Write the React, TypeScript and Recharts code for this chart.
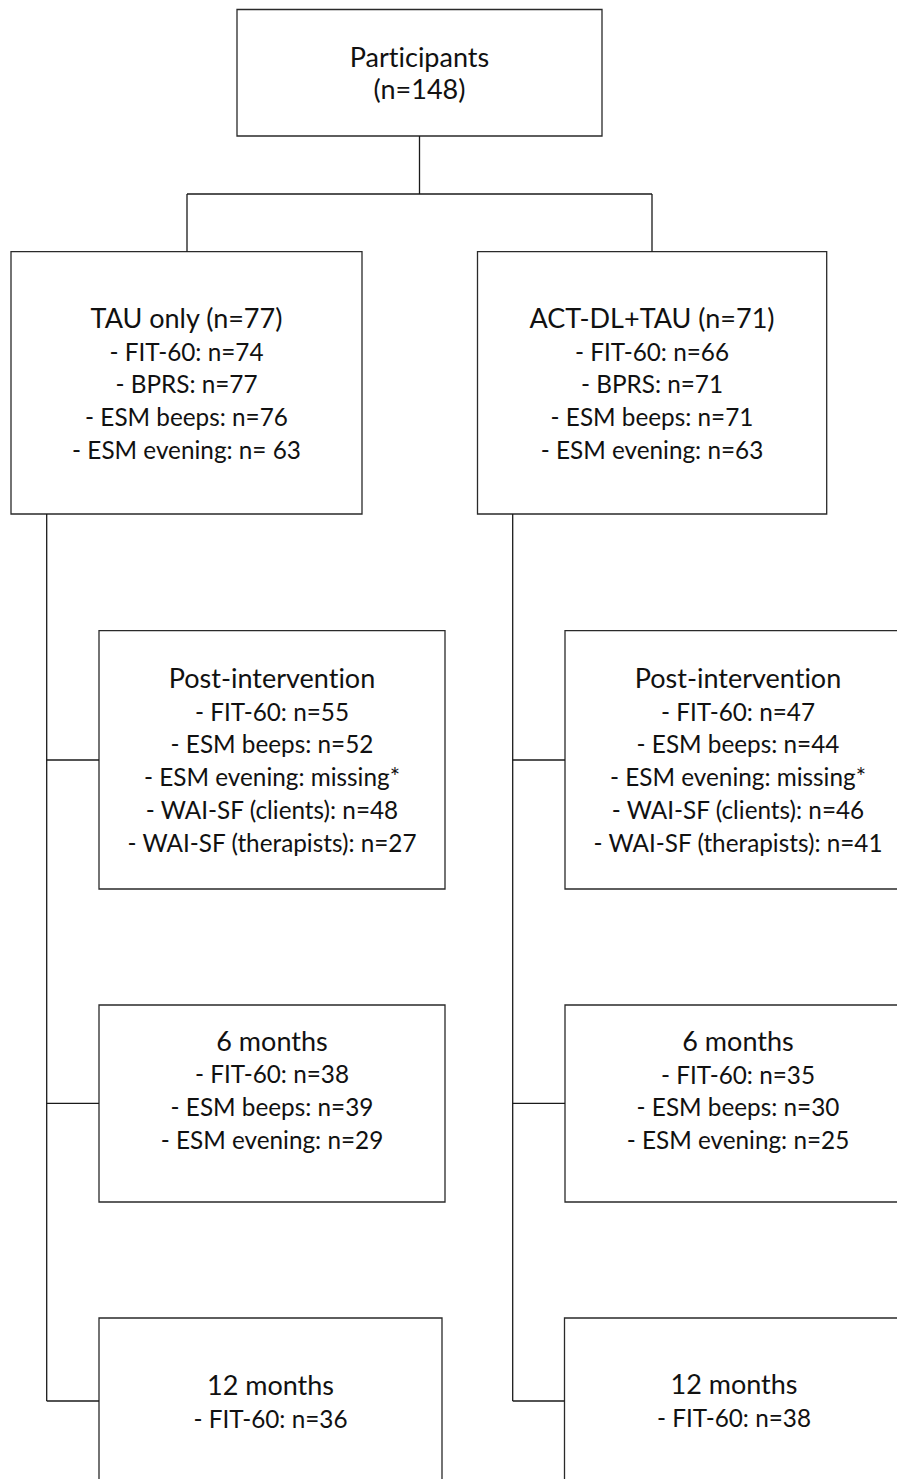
import React from 'react';
import { ComposedChart, XAxis, YAxis, Scatter, ReferenceArea, ReferenceLine } from 'recharts';

// ---- Text content (values) ----
const participantsLines = ['Participants', '(n=148)'];
const tauBaselineLines = ['TAU only (n=77)', '- FIT-60: n=74', '- BPRS: n=77', '- ESM beeps: n=76', '- ESM evening: n= 63'];
const actBaselineLines = ['ACT-DL+TAU (n=71)', '- FIT-60: n=66', '- BPRS: n=71', '- ESM beeps: n=71', '- ESM evening: n=63'];
const tauPostLines = ['Post-intervention', '- FIT-60: n=55', '- ESM beeps: n=52', '- ESM evening: missing*', '- WAI-SF (clients): n=48', '- WAI-SF (therapists): n=27'];
const actPostLines = ['Post-intervention', '- FIT-60: n=47', '- ESM beeps: n=44', '- ESM evening: missing*', '- WAI-SF (clients): n=46', '- WAI-SF (therapists): n=41'];
const tau6Lines = ['6 months', '- FIT-60: n=38', '- ESM beeps: n=39', '- ESM evening: n=29'];
const act6Lines = ['6 months', '- FIT-60: n=35', '- ESM beeps: n=30', '- ESM evening: n=25'];
const tau12Lines = ['12 months', '- FIT-60: n=36'];
const act12Lines = ['12 months', '- FIT-60: n=38'];

// ---- Layout (positions in the flowchart's coordinate space) ----
const W = 897;
const H = 1479;
const LINE_GAP = 32.7;

type Box = { x1: number; x2: number; y1: number; y2: number; cx: number; base: number; titleOnly: boolean; allBig: boolean; lines: string[] };

const boxes: Box[] = [
  { x1: 237, x2: 602, y1: 9.5, y2: 136, cx: 419.5, base: 66.7, titleOnly: false, allBig: true, lines: participantsLines },
  { x1: 11, x2: 362, y1: 251.7, y2: 514, cx: 186.5, base: 328, titleOnly: true, allBig: false, lines: tauBaselineLines },
  { x1: 477.5, x2: 826.7, y1: 251.7, y2: 514, cx: 652, base: 328, titleOnly: true, allBig: false, lines: actBaselineLines },
  { x1: 99, x2: 445, y1: 630.7, y2: 889, cx: 272, base: 688, titleOnly: true, allBig: false, lines: tauPostLines },
  { x1: 565, x2: 911, y1: 630.7, y2: 889, cx: 738, base: 688, titleOnly: true, allBig: false, lines: actPostLines },
  { x1: 99, x2: 445, y1: 1005, y2: 1202, cx: 272, base: 1050.7, titleOnly: true, allBig: false, lines: tau6Lines },
  { x1: 565, x2: 911, y1: 1005, y2: 1202, cx: 738, base: 1051, titleOnly: true, allBig: false, lines: act6Lines },
  { x1: 99, x2: 442, y1: 1318, y2: 1530, cx: 270.5, base: 1395, titleOnly: true, allBig: false, lines: tau12Lines },
  { x1: 564.5, x2: 904, y1: 1318, y2: 1530, cx: 734, base: 1394, titleOnly: true, allBig: false, lines: act12Lines },
];

type Seg = [number, number, number, number];
const connectors: Seg[] = [
  [419.5, 136, 419.5, 194],
  [187, 194, 652, 194],
  [187, 194, 187, 251.7],
  [652, 194, 652, 251.7],
  [46.7, 514, 46.7, 1401],
  [512.7, 514, 512.7, 1401],
  [46.7, 760, 99, 760],
  [46.7, 1103.3, 99, 1103.3],
  [46.7, 1401, 99, 1401],
  [512.7, 760, 565, 760],
  [512.7, 1103.3, 565, 1103.3],
  [512.7, 1401, 564.5, 1401],
];

const labels = boxes.flatMap((b) =>
  b.lines.map((t, i) => ({
    x: b.cx,
    y: b.base + i * LINE_GAP,
    text: t,
    big: b.allBig || (b.titleOnly && i === 0),
  }))
);

const FONT = 'Lato, "Open Sans", sans-serif';

const TextShape = (props: any) => {
  const { cx, cy, payload } = props;
  return (
    <text
      x={cx}
      y={cy}
      textAnchor="middle"
      fontFamily={FONT}
      fontSize={payload.big ? 27 : 24.3}
      fill="#111"
      style={{ fontVariantLigatures: 'none' }}
    >
      {payload.text}
    </text>
  );
};

export default function App() {
  return (
    <div style={{ position: 'absolute', left: 0, top: 0, background: '#fff' }}>
      <ComposedChart width={W} height={H} margin={{ top: 0, right: 0, bottom: 0, left: 0 }}>
        <XAxis type="number" dataKey="x" domain={[0, W]} hide allowDataOverflow />
        <YAxis type="number" dataKey="y" domain={[0, H]} reversed hide allowDataOverflow width={0} />
        {boxes.map((b, i) => (
          <ReferenceArea
            key={'b' + i}
            x1={b.x1}
            x2={b.x2}
            y1={b.y1}
            y2={b.y2}
            fill="#fff"
            fillOpacity={0}
            stroke="#2a2a2a"
            strokeWidth={1.3}
            ifOverflow="hidden"
          />
        ))}
        {connectors.map((s, i) => (
          <ReferenceLine
            key={'c' + i}
            segment={[{ x: s[0], y: s[1] }, { x: s[2], y: s[3] }]}
            stroke="#1a1a1a"
            strokeWidth={1.3}
            ifOverflow="visible"
          />
        ))}
        <Scatter data={labels} shape={TextShape} isAnimationActive={false} />
      </ComposedChart>
    </div>
  );
}
